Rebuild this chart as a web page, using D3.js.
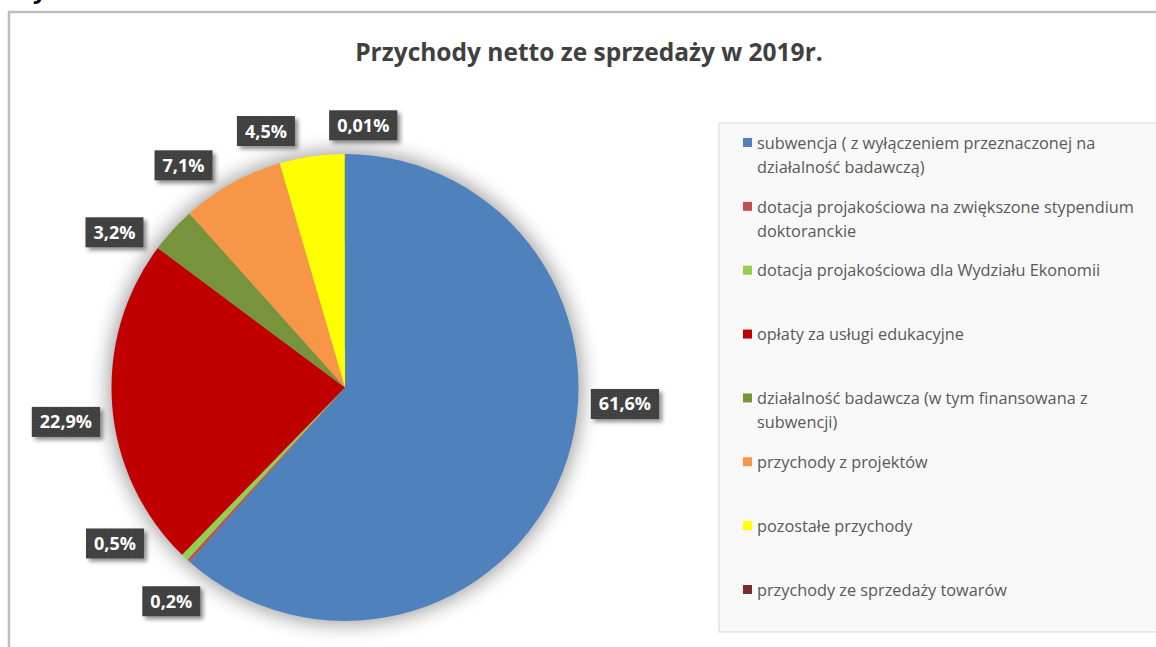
<!DOCTYPE html>
<html lang="pl">
<head>
    <meta charset="UTF-8">
    <title>Przychody netto ze sprzedaży w 2019r.</title>
    <script src="https://d3js.org/d3.v7.min.js"></script>
    <style>
        body { margin: 0; background: #fff; }
    </style>
</head>
<body>
    <svg class="canvas"></svg>
    <script>
        var svg_width = 1156, svg_height = 647;

        // data, clockwise from 12 o'clock
        var categories = [
            'subwencja ( z wyłączeniem przeznaczonej na działalność badawczą)',
            'dotacja projakościowa na zwiększone stypendium doktoranckie',
            'dotacja projakościowa dla Wydziału Ekonomii',
            'opłaty za usługi edukacyjne',
            'działalność badawcza (w tym finansowana z subwencji)',
            'przychody z projektów',
            'pozostałe przychody',
            'przychody ze sprzedaży towarów'
        ];
        var shares = [61.6, 0.2, 0.5, 22.9, 3.2, 7.1, 4.5, 0.01];
        var shareLabels = ['61,6%', '0,2%', '0,5%', '22,9%', '3,2%', '7,1%', '4,5%', '0,01%'];
        var colors = ['#4f81bd', '#c0504d', '#92d050', '#c00000', '#77933c', '#f79646', '#ffff00', '#7b2c2a'];
        // how far (degrees) each label was pushed off its slice middle to avoid the others
        var labelNudge = [-17.5, -3, 12.5, -2.5, -8.5, -7, -9, 4];

        var cx = 345, cy = 387.5, radius = 233.5;

        var svg = d3.select('svg').attr('width', svg_width).attr('height', svg_height);
        var defs = svg.append('defs');

        var glow = defs.append('filter').attr('id', 'pieShadow')
            .attr('x', '-30%').attr('y', '-30%').attr('width', '160%').attr('height', '160%');
        glow.append('feGaussianBlur').attr('stdDeviation', 10);

        var boxShadow = defs.append('filter').attr('id', 'boxShadow')
            .attr('x', '-30%').attr('y', '-30%').attr('width', '170%').attr('height', '170%');
        boxShadow.append('feDropShadow').attr('dx', 3).attr('dy', 3)
            .attr('stdDeviation', 2).attr('flood-color', '#000').attr('flood-opacity', 0.45);

        var dots = defs.append('pattern').attr('id', 'dots')
            .attr('width', 3).attr('height', 3).attr('patternUnits', 'userSpaceOnUse');
        dots.append('rect').attr('width', 3).attr('height', 3).attr('fill', '#3f3f3f');
        dots.append('rect').attr('width', 1).attr('height', 1).attr('fill', '#4f4f4f');

        // leftover descender from the text above the chart (cut off in the original too)
        svg.append('text').attr('x', 33).attr('y', -2)
            .style('font', 'bold 24px "Open Sans"').attr('fill', '#000').text('y');

        // chart frame
        svg.append('rect').attr('x', 9).attr('y', 12)
            .attr('width', 1300).attr('height', 800)
            .attr('fill', '#fff').attr('stroke', '#bfbfbf').attr('stroke-width', 2.5);

        svg.append('text').attr('x', 589).attr('y', 61)
            .attr('text-anchor', 'middle')
            .style('font', 'bold 24.5px "Open Sans"').attr('fill', '#404040')
            .text('Przychody netto ze sprzedaży w 2019r.');

        // pie
        var pie = d3.pie().sort(null).value(function(d) { return d; });
        var arcs = pie(shares);
        var arc = d3.arc().innerRadius(0).outerRadius(radius);

        var g = svg.append('g').attr('transform', 'translate(' + cx + ',' + cy + ')');

        g.append('circle').attr('r', radius + 3)
            .attr('fill', '#000').attr('opacity', 0.38)
            .attr('filter', 'url(#pieShadow)');

        g.selectAll('path.slice')
            .data(arcs)
            .enter()
            .append('path')
            .attr('class', 'slice')
            .attr('d', arc)
            .attr('fill', function(d, i) { return colors[i]; });

        // data labels, boxed outside the pie
        var labels = g.selectAll('g.label')
            .data(arcs)
            .enter()
            .append('g')
            .attr('class', 'label');

        labels.append('text')
            .attr('text-anchor', 'middle')
            .attr('dy', '0.36em')
            .style('font', 'bold 18px "Open Sans"')
            .attr('fill', '#fff')
            .text(function(d, i) { return shareLabels[i]; });

        labels.each(function(d, i) {
            var lab = d3.select(this);
            var w = lab.select('text').node().getComputedTextLength() + 16, h = 30;
            var a = (d.startAngle + d.endAngle) / 2 + labelNudge[i] * Math.PI / 180;
            var half = Math.abs(Math.sin(a)) * w / 2 + Math.abs(Math.cos(a)) * h / 2;
            var dist = radius + 12 + half;
            lab.attr('transform', 'translate(' + (dist * Math.sin(a)) + ',' + (-dist * Math.cos(a)) + ')');
            lab.insert('rect', 'text')
                .attr('x', -w / 2).attr('y', -h / 2)
                .attr('width', w).attr('height', h)
                .attr('fill', 'url(#dots)')
                .attr('filter', 'url(#boxShadow)');
        });

        // legend
        var legend = svg.append('g');
        legend.append('rect').attr('x', 719).attr('y', 123)
            .attr('width', 500).attr('height', 509)
            .attr('fill', '#f8f8f8').attr('stroke', '#d9d9d9');

        var yLegend = d3.scalePoint().domain(categories).range([143, 590]);

        var items = legend.selectAll('g.item')
            .data(categories)
            .enter()
            .append('g')
            .attr('class', 'item')
            .attr('transform', function(d) { return 'translate(743,' + yLegend(d) + ')'; });

        items.append('rect').attr('x', 0).attr('y', -5)
            .attr('width', 9).attr('height', 9)
            .attr('fill', function(d, i) { return colors[i]; });

        items.append('text')
            .attr('x', 14)
            .style('font', '16.3px "Open Sans"')
            .attr('fill', '#595959')
            .each(function(d) {
                var t = d3.select(this);
                var words = d.split(' '), line = [];
                var tspan = t.append('tspan').attr('x', 14).attr('dy', '0.35em');
                words.forEach(function(word) {
                    line.push(word);
                    tspan.text(line.join(' '));
                    if (tspan.node().getComputedTextLength() > 392 && line.length > 1) {
                        line.pop();
                        tspan.text(line.join(' '));
                        line = [word];
                        tspan = t.append('tspan').attr('x', 14).attr('dy', 24).text(word);
                    }
                });
            });
    </script>
</body>
</html>
